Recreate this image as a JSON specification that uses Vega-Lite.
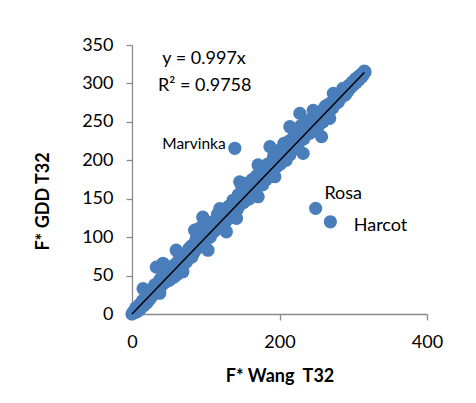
{
  "$schema": "https://vega.github.io/schema/vega-lite/v6.json",
  "width": 295,
  "height": 269,
  "autosize": {"type": "none"},
  "padding": {"left": 132, "top": 45, "right": 49, "bottom": 89},
  "background": "white",
  "config": {
    "view": {"stroke": null},
    "font": "Lato",
    "axis": {
      "domainColor": "#8a8a8a",
      "tickColor": "#8a8a8a",
      "domainWidth": 1.3,
      "tickWidth": 1.3,
      "tickSize": 6,
      "grid": false,
      "labelFont": "Lato",
      "labelFontSize": 18,
      "labelColor": "black",
      "labelOverlap": false,
      "labelFlush": false,
      "labelBound": false,
      "titleFont": "Lato",
      "titleFontSize": 18,
      "titleFontWeight": "bold",
      "titleColor": "black"
    }
  },
  "datasets": {
    "pts": [
      {"x":0,"y":0},{"x":2,"y":3},{"x":4,"y":2},{"x":6,"y":7},{"x":8,"y":5},{"x":10,"y":12},{"x":12,"y":9},{"x":15,"y":33},{"x":14,"y":17},{"x":18,"y":14},{"x":19.5,"y":14},{"x":20,"y":24},{"x":22,"y":20},{"x":25,"y":30},{"x":27,"y":23},{"x":30,"y":35},{"x":33,"y":61},{"x":32,"y":28},{"x":35,"y":40},{"x":37.6,"y":27},{"x":38,"y":45},{"x":40,"y":37},{"x":42,"y":66},{"x":44,"y":50},{"x":46,"y":42},{"x":48,"y":55},{"x":50,"y":47},{"x":52,"y":58},{"x":55,"y":50},{"x":58,"y":62},{"x":60,"y":83},{"x":60,"y":55},{"x":63,"y":68},{"x":65,"y":60},{"x":69,"y":55},{"x":70,"y":75},{"x":72,"y":70},{"x":75,"y":80},{"x":78,"y":74},{"x":80,"y":88},{"x":82,"y":78},{"x":85,"y":109},{"x":85,"y":92},{"x":88,"y":85},{"x":90,"y":100},{"x":92,"y":112},{"x":94,"y":90},{"x":96,"y":126},{"x":98,"y":105},{"x":100,"y":96},{"x":103,"y":83},{"x":105,"y":112},{"x":108,"y":105},{"x":110,"y":120},{"x":112,"y":108},{"x":115,"y":125},{"x":117,"y":113},{"x":119,"y":137},{"x":120,"y":118},{"x":123,"y":130},{"x":125,"y":122},{"x":128,"y":107},{"x":130,"y":135},{"x":132,"y":128},{"x":135,"y":142},{"x":138,"y":133},{"x":139.4,"y":215.6},{"x":141.7,"y":124.5},{"x":143,"y":150},{"x":146,"y":172},{"x":148,"y":145},{"x":150,"y":158},{"x":152,"y":150},{"x":155,"y":148},{"x":157,"y":165},{"x":160,"y":157},{"x":162,"y":170},{"x":165,"y":162},{"x":168,"y":175},{"x":171,"y":152.6},{"x":171,"y":194},{"x":173,"y":180},{"x":175,"y":172},{"x":178,"y":186},{"x":180,"y":178},{"x":183,"y":190},{"x":185,"y":183},{"x":187,"y":217.7},{"x":189,"y":195},{"x":191,"y":200},{"x":193.7,"y":178.6},{"x":195,"y":205},{"x":198,"y":198},{"x":200,"y":210},{"x":202,"y":200},{"x":205,"y":215},{"x":207,"y":205},{"x":210,"y":220},{"x":212,"y":208},{"x":214,"y":243.7},{"x":214,"y":207},{"x":216,"y":225},{"x":218,"y":215},{"x":220,"y":232},{"x":222,"y":220},{"x":225,"y":238},{"x":227.6,"y":261},{"x":228,"y":225},{"x":230,"y":240},{"x":232,"y":209},{"x":234,"y":235},{"x":236,"y":250},{"x":238,"y":236},{"x":240,"y":248},{"x":242,"y":240},{"x":245.7,"y":265},{"x":246,"y":245},{"x":248,"y":258},{"x":249,"y":137.5},{"x":250,"y":248},{"x":252,"y":262},{"x":255,"y":252},{"x":257,"y":230.7},{"x":258,"y":265},{"x":260,"y":258},{"x":262,"y":270},{"x":264,"y":260},{"x":266,"y":265},{"x":268,"y":254.6},{"x":269,"y":120},{"x":270,"y":275},{"x":272,"y":268},{"x":273,"y":287},{"x":275,"y":275},{"x":278,"y":280},{"x":280,"y":276},{"x":282,"y":285},{"x":284,"y":282},{"x":286,"y":293.6},{"x":288,"y":287},{"x":290,"y":292},{"x":292,"y":289},{"x":294,"y":296},{"x":296,"y":294},{"x":298,"y":300},{"x":300,"y":298},{"x":302,"y":303},{"x":304,"y":301},{"x":306,"y":307},{"x":308,"y":305},{"x":310,"y":310},{"x":312,"y":309},{"x":314,"y":313},{"x":316,"y":315},
      {"x":5,"y":8},{"x":7,"y":3},{"x":11,"y":6},{"x":13,"y":14},{"x":16,"y":11},{"x":17,"y":20},{"x":21,"y":16},{"x":23,"y":27},{"x":24,"y":19},{"x":26,"y":25},{"x":28,"y":33},{"x":29,"y":26},{"x":31,"y":38},{"x":34,"y":30},{"x":36,"y":34},{"x":39,"y":42},{"x":41,"y":48},{"x":43,"y":40},{"x":45,"y":54},{"x":47,"y":45},{"x":49,"y":52},{"x":51,"y":44},{"x":53,"y":50},{"x":54,"y":62},{"x":56,"y":56},{"x":57,"y":48},{"x":59,"y":65},{"x":61,"y":60},{"x":62,"y":52},{"x":64,"y":72},{"x":66,"y":63},{"x":67,"y":70},{"x":68,"y":62},{"x":71,"y":66},{"x":73,"y":78},{"x":74,"y":68},{"x":76,"y":72},{"x":77,"y":85},{"x":79,"y":80},{"x":81,"y":74},{"x":83,"y":90},{"x":84,"y":80},{"x":86,"y":84},{"x":87,"y":98},{"x":89,"y":95},{"x":91,"y":88},{"x":93,"y":103},{"x":95,"y":95},{"x":97,"y":110},{"x":99,"y":100},{"x":101,"y":115},{"x":102,"y":98},{"x":104,"y":108},{"x":106,"y":100},{"x":107,"y":118},{"x":109,"y":110},{"x":111,"y":115},{"x":113,"y":120},{"x":114,"y":110},{"x":116,"y":130},{"x":118,"y":120},{"x":121,"y":125},{"x":122,"y":115},{"x":124,"y":135},{"x":126,"y":128},{"x":127,"y":120},{"x":129,"y":130},{"x":131,"y":140},{"x":133,"y":125},{"x":134,"y":138},{"x":136,"y":130},{"x":137,"y":148},{"x":140,"y":140},{"x":142,"y":135},{"x":144,"y":155},{"x":145,"y":140},{"x":147,"y":152},{"x":149,"y":165},{"x":151,"y":145},{"x":153,"y":160},{"x":154,"y":170},{"x":156,"y":152},{"x":158,"y":160},{"x":159,"y":150},{"x":161,"y":165},{"x":163,"y":175},{"x":164,"y":158},{"x":166,"y":170},{"x":167,"y":160},{"x":169,"y":180},{"x":170,"y":168},{"x":172,"y":175},{"x":174,"y":185},{"x":176,"y":175},{"x":177,"y":168},{"x":179,"y":190},{"x":181,"y":182},{"x":182,"y":175},{"x":184,"y":195},{"x":186,"y":188},{"x":188,"y":180},{"x":190,"y":192},{"x":192,"y":205},{"x":194,"y":190},{"x":196,"y":212},{"x":197,"y":192},{"x":199,"y":205},{"x":201,"y":195},{"x":203,"y":215},{"x":204,"y":205},{"x":206,"y":222},{"x":208,"y":210},{"x":209,"y":200},{"x":211,"y":215},{"x":213,"y":225},{"x":215,"y":212},{"x":217,"y":222},{"x":219,"y":230},{"x":221,"y":215},{"x":223,"y":228},{"x":224,"y":218},{"x":226,"y":232},{"x":229,"y":245},{"x":231,"y":232},{"x":233,"y":228},{"x":235,"y":242},{"x":237,"y":240},{"x":239,"y":252},{"x":241,"y":235},{"x":243,"y":250},{"x":244,"y":242},{"x":247,"y":250},{"x":251,"y":255},{"x":253,"y":245},{"x":254,"y":260},{"x":256,"y":256},{"x":259,"y":250},{"x":261,"y":262},{"x":263,"y":266},{"x":265,"y":272},{"x":267,"y":262},{"x":271,"y":270},{"x":274,"y":272},{"x":276,"y":280},{"x":277,"y":274},{"x":279,"y":285},{"x":281,"y":280},{"x":283,"y":288},{"x":285,"y":284},{"x":287,"y":290},{"x":289,"y":285},{"x":291,"y":295},{"x":293,"y":292},{"x":295,"y":298},{"x":297,"y":297},{"x":299,"y":302},{"x":301,"y":300},{"x":303,"y":306},{"x":305,"y":303},{"x":307,"y":309},{"x":309,"y":308},{"x":311,"y":312},{"x":313,"y":311},{"x":315,"y":316}
    ],
    "fit": [{"x": 0, "y": 0}, {"x": 315, "y": 314.1}],
    "labels": [
      {"x": 97.7, "y": 331.4, "label": "y = 0.997x", "kind": "eq"},
      {"x": 98.7, "y": 297, "label": "R² = 0.9758", "kind": "eq"},
      {"x": 84, "y": 221, "label": "Marvinka", "kind": "small"},
      {"x": 286.4, "y": 155.7, "label": "Rosa", "kind": "eq"},
      {"x": 337, "y": 115, "label": "Harcot", "kind": "eq"}
    ]
  },
  "encoding": {
    "x": {"field": "x", "type": "quantitative", "scale": {"domain": [0, 400], "nice": false},
          "axis": {"values": [0, 200, 400], "labelOverlap": false, "title": "F* Wang \u00a0T32", "labelPadding": 13, "titlePadding": 16}},
    "y": {"field": "y", "type": "quantitative", "scale": {"domain": [0, 350], "nice": false},
          "axis": {"values": [0, 50, 100, 150, 200, 250, 300, 350], "tickCount": 8, "labelOverlap": false, "title": "F* GDD T32", "labelPadding": 13, "titleX": -80, "titleY": 156}}
  },
  "layer": [
    {
      "data": {"name": "pts"},
      "mark": {"type": "circle", "size": 175, "color": "#4a7ebb", "opacity": 1}
    },
    {
      "data": {"name": "fit"},
      "mark": {"type": "line", "color": "black", "strokeWidth": 1.5}
    },
    {
      "data": {"name": "labels"},
      "mark": {"type": "text", "font": "Lato", "color": "black", "align": "center", "baseline": "middle"},
      "encoding": {
        "text": {"field": "label"},
        "size": {"field": "kind", "type": "nominal", "scale": {"domain": ["eq", "small"], "range": [18, 15.5]}, "legend": null}
      }
    }
  ]
}
